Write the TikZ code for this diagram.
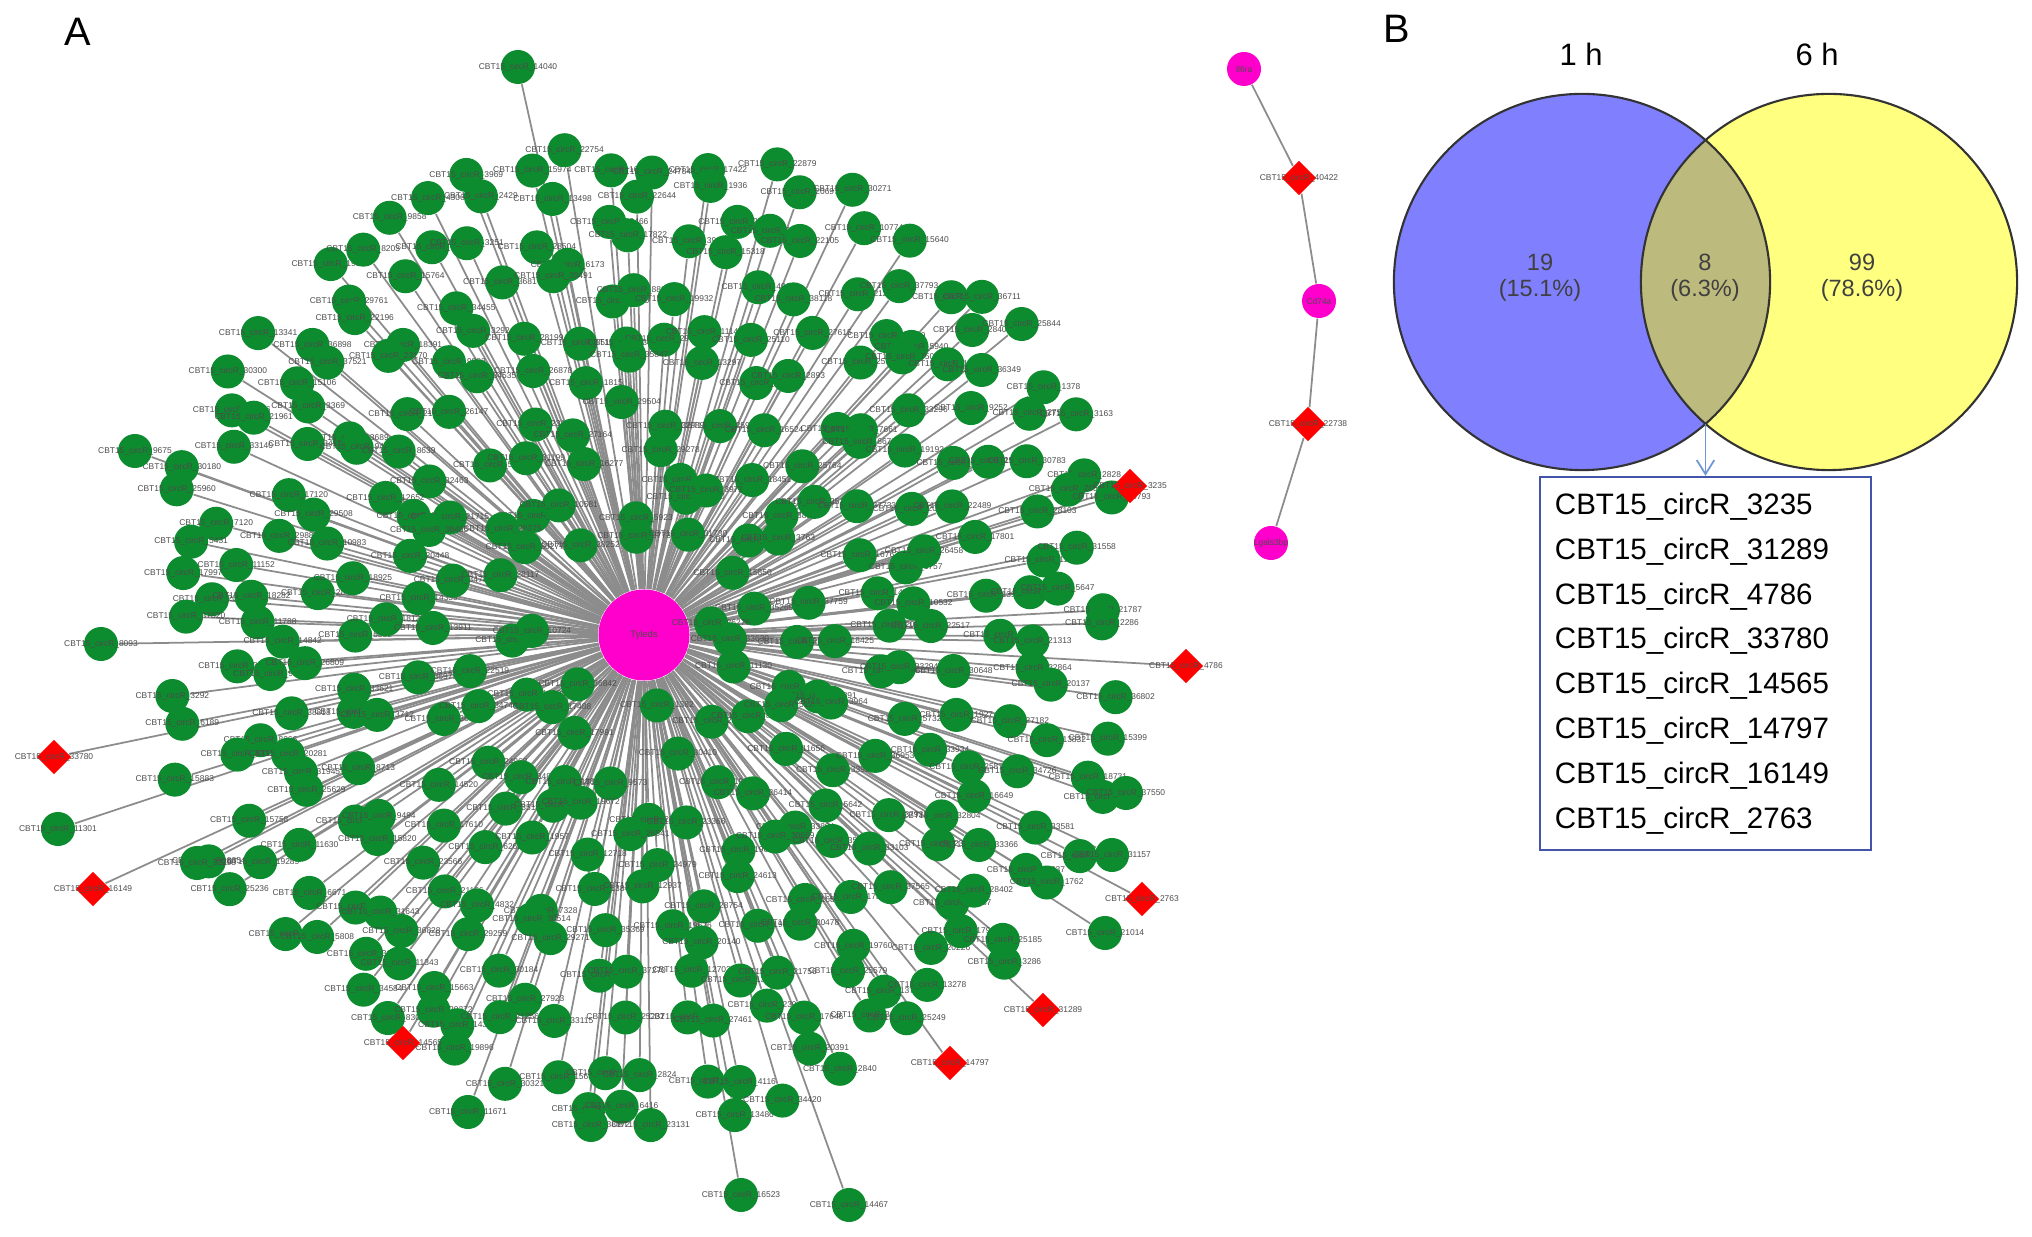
\documentclass[tikz,border=0pt]{standalone}
\usepackage{fontspec}
\setmainfont{Liberation Sans}
\usetikzlibrary{shapes.geometric,arrows.meta}
\pgfdeclarelayer{edges}
\pgfsetlayers{edges,main}
\newcounter{gnum}
\definecolor{netgreen}{RGB}{12,140,46}
\definecolor{netmag}{RGB}{255,0,204}
\definecolor{netred}{RGB}{255,0,0}
\definecolor{netgray}{RGB}{140,140,140}
\definecolor{vennblue}{RGB}{128,128,255}
\definecolor{vennyellow}{RGB}{255,255,128}
\definecolor{vennmix}{RGB}{189,186,125}
\definecolor{boxblue}{RGB}{68,84,170}
\definecolor{arrowblue}{RGB}{110,150,210}
\begin{document}
\begin{tikzpicture}[x=0.01cm,y=-0.01cm,
	gnode/.style={circle,fill=netgreen,minimum size=0.34cm,inner sep=0pt},
	mnode/.style={circle,fill=netmag,minimum size=0.34cm,inner sep=0pt},
	rnode/.style={diamond,fill=netred,minimum width=0.35cm,minimum height=0.35cm,inner sep=0pt},
	glabel/.style={font=\fontsize{2.4}{2.8}\selectfont,text=black!70,inner sep=0pt},
	link/.style={draw=netgray,line width=0.5pt},
	panel/.style={font=\fontsize{11.3}{13}\selectfont},
	vnum/.style={font=\fontsize{6.7}{7.4}\selectfont,align=center,text=black!75}]
	\useasboundingbox (0,0) rectangle (2032,1237);

	\node[panel] (pa) at (78,32) {A};
	\node[circle,fill=netmag,minimum size=0.91cm,inner sep=0pt,
		label={[glabel,font=\fontsize{2.7}{3}\selectfont]center:Tyleds}] (hub) at (644,635) {};

	% chmura circRNA
	\pgfmathsetseed{2027}
	\foreach \r in {-11,...,11} {
		\foreach \c in {-11,...,11} {
			\pgfmathsetmacro\dx{\c*50+25*mod(abs(\r),2)+40*rnd-20}
			\pgfmathsetmacro\dy{\r*43.3+40*rnd-20}
			\pgfmathsetmacro\dd{(\dx/100)*(\dx/100)+(\dy/100)*(\dy/100)}
			\pgfmathtruncatemacro\inside{(\dd<24.5)&&(\dd>0.45)}
			\pgfmathtruncatemacro\hi{1+38*rnd}
			\pgfmathtruncatemacro\lo{100+899*rnd}
			\ifnum\inside=1
				\stepcounter{gnum}
				\node[gnode,label={[glabel]center:CBT15\_circR\_\hi\lo}] (g\thegnum) at ({644+\dx},{635+\dy}) {};
			\fi
		}
	}
	\edef\ng{\number\value{gnum}}

	\foreach \px/\py/\num [count=\k] in {518/67/14040, 101/644/8093, 58/829/11301, 135/451/9675,
		741/1195/16523, 849/1205/14467, 1112/855/31157, 1105/933/21014, 1126/793/37550,
		197/863/32298, 591/1125/38672, 468/1112/11671} {
		\node[gnode,label={[glabel]center:CBT15\_circR\_\num}] (o\k) at (\px,\py) {};
	}

	% wspolne circRNA
	\foreach \num/\px/\py in {3235/1130/486, 4786/1186/666, 33780/54/757, 16149/93/889,
		14565/403/1043, 14797/950/1063, 31289/1043/1010, 2763/1142/899} {
		\node[rnode,label={[glabel]center:CBT15\_circR\_\num}] (c\num) at (\px,\py) {};
	}

	\node[mnode,label={[glabel]center:Il6ra}] (m1) at (1244,69) {};
	\node[rnode,label={[glabel]center:CBT15\_circR\_40422}] (d1) at (1299,178) {};
	\node[mnode,label={[glabel]center:Cd74a}] (m2) at (1319,301) {};
	\node[rnode,label={[glabel]center:CBT15\_circR\_22738}] (d2) at (1308,424) {};
	\node[mnode,label={[glabel]center:Lgals3bp}] (m3) at (1271,543) {};

	\begin{pgfonlayer}{edges}
		\foreach \i in {1,...,\ng} \draw[link] (hub) -- (g\i);
		\foreach \k in {1,...,12} \draw[link] (hub) -- (o\k);
		\foreach \num in {3235,4786,33780,16149,14565,14797,31289,2763} \draw[link] (hub) -- (c\num);
		\draw[link] (m1) -- (d1) -- (m2) -- (d2) -- (m3);
	\end{pgfonlayer}

	% panel B
	\node[panel] (pb) at (1397,29) {B};
	\coordinate (vl) at (1582,282);
	\coordinate (vr) at (1829,282);
	\fill[vennblue] (vl) circle[radius=1.88cm];
	\fill[vennyellow] (vr) circle[radius=1.88cm];
	\begin{scope}
		\clip (vl) circle[radius=1.88cm];
		\fill[vennmix] (vr) circle[radius=1.88cm];
	\end{scope}
	\draw[black!80,line width=0.6pt] (vl) circle[radius=1.88cm] (vr) circle[radius=1.88cm];

	\node[font=\fontsize{8.8}{10}\selectfont] (t1) at (1581,54) {1 h};
	\node[font=\fontsize{8.8}{10}\selectfont] (t6) at (1817,54) {6 h};
	\node[vnum] (n1) at (1540,278) {19\\(15.1\%)};
	\node[vnum] (n8) at (1705,278) {8\\(6.3\%)};
	\node[vnum] (n99) at (1862,278) {99\\(78.6\%)};

	\coordinate (cut) at (1705.5,424);
	\node[draw=boxblue,line width=0.6pt,minimum width=3.31cm,minimum height=3.73cm,
		inner xsep=0.15cm,text width=3.01cm,align=left,
		font=\fontsize{8.4}{12.75}\selectfont] (list) at (1705.5,663.5)
		{CBT15\_circR\_3235\\CBT15\_circR\_31289\\CBT15\_circR\_4786\\CBT15\_circR\_33780\\
		CBT15\_circR\_14565\\CBT15\_circR\_14797\\CBT15\_circR\_16149\\CBT15\_circR\_2763};
	\draw[arrowblue,line width=0.5pt,-{Straight Barb[length=4pt,width=5pt]}] (cut) -- (list.north);
\end{tikzpicture}
\end{document}
